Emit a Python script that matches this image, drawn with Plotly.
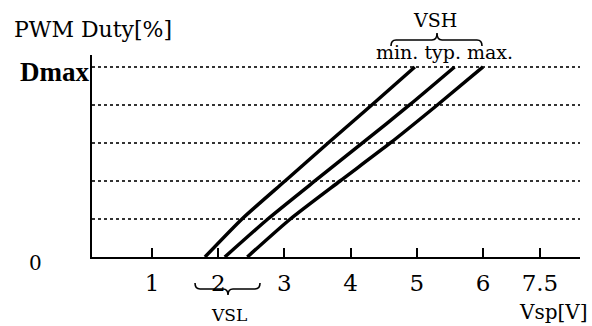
import plotly.graph_objects as go

# ---- data ----
duty = [0, 20, 40, 60, 80, 100]                      # PWM duty [% of Dmax]
vsp_min = [1.80, 2.36, 3.01, 3.66, 4.32, 4.97]       # min. curve, Vsp [V]
vsp_typ = [2.10, 2.75, 3.46, 4.18, 4.89, 5.57]       # typ. curve
vsp_max = [2.44, 3.09, 3.84, 4.60, 5.31, 6.00]       # max. curve
x_tick_pos = [1, 2, 3, 4, 5, 6, 6.86]
x_tick_text = ["1", "2", "3", "4", "5", "6", "7.5"]

# ---- layout geometry (page pixels) ----
W, H = 592, 326
PX0, PX1, PY0, PY1 = 92, 580, 257, 55          # plot area in page pixels
L, R, T, B = PX0, W - PX1, PY1, H - PY0


def pp(px, py):
    """page pixel -> paper coordinates"""
    return (px - PX0) / (PX1 - PX0), (PY0 - py) / (PY0 - PY1)


SERIF = "DejaVu Serif"

fig = go.Figure()
for xs in (vsp_min, vsp_typ, vsp_max):
    fig.add_trace(go.Scatter(x=xs, y=duty, mode="lines",
                             line=dict(color="black", width=3.5, shape="spline", smoothing=0.6),
                             showlegend=False, hoverinfo="skip"))


def brace_path(x0, x1, y, tip, depth, curl):
    p = lambda a, b: "%.4f %.4f" % pp(a, b)
    d = "M " + p(x0, y + curl)
    d += " Q " + p(x0, y) + " " + p(x0 + 5, y)
    d += " L " + p(tip - 5, y)
    d += " Q " + p(tip, y) + " " + p(tip, y + depth)
    d += " Q " + p(tip, y) + " " + p(tip + 5, y)
    d += " L " + p(x1 - 5, y)
    d += " Q " + p(x1, y) + " " + p(x1, y + curl)
    return d


shapes = [
    dict(type="path", xref="paper", yref="paper",
         path=brace_path(391, 482, 40, 437, -7, 6),
         line=dict(color="black", width=1.6)),
    dict(type="path", xref="paper", yref="paper",
         path=brace_path(195, 260, 289, 228, 6, -6),
         line=dict(color="black", width=1.6)),
]

annotations = []


def add_text(text, px, py, size, xanchor="center", bold=False, family=SERIF):
    x, y = pp(px, py)
    annotations.append(dict(text=("<b>%s</b>" % text) if bold else text,
                            x=x, y=y, xref="paper", yref="paper",
                            xanchor=xanchor, yanchor="middle", showarrow=False,
                            font=dict(family=family, size=size, color="black")))


add_text("PWM Duty[%]", 12, 30, 22, xanchor="left")
add_text("Dmax", 91, 72, 27, xanchor="right", bold=True, family="Liberation Serif")
add_text("0", 35, 263, 20)
add_text("VSH", 435, 20, 19)
add_text("min. typ. max.", 444, 52, 19)
add_text("VSL", 229, 315, 17)
add_text("Vsp[V]", 590, 312, 20, xanchor="right")

fig.update_layout(
    width=W, height=H,
    margin=dict(l=L, r=R, t=T, b=B),
    paper_bgcolor="white", plot_bgcolor="white",
    shapes=shapes, annotations=annotations,
    xaxis=dict(range=[0.094, 7.465], tickvals=x_tick_pos, ticktext=x_tick_text,
               ticks="inside", ticklen=9, tickwidth=1.5, tickcolor="black",
               showline=True, linecolor="black", linewidth=2,
               showgrid=False, zeroline=False,
               tickfont=dict(family=SERIF, size=23, color="black"),
               ticklabelstandoff=4),
    yaxis=dict(range=[0, 106.3], tickvals=[20, 40, 60, 80, 100],
               showticklabels=False, ticks="",
               showline=True, linecolor="black", linewidth=2,
               showgrid=True, gridcolor="#333333", gridwidth=1.6, griddash="dot",
               zeroline=False),
)

fig.write_html("out.html", config={"displayModeBar": False},
               post_script="document.body.style.margin='0';document.body.style.overflow='hidden';")
